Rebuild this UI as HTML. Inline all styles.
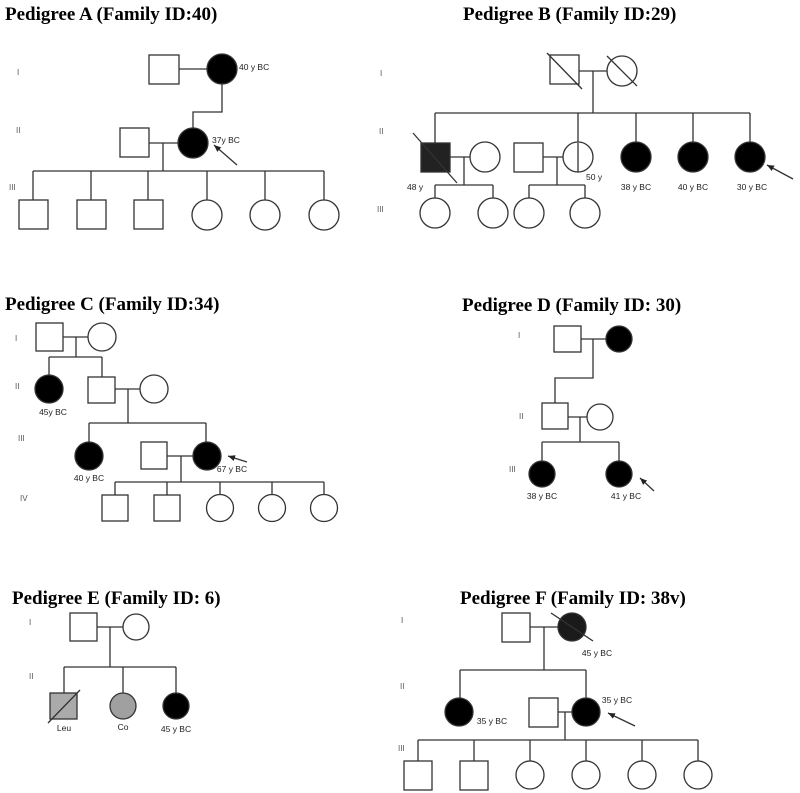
<!DOCTYPE html>
<html><head><meta charset="utf-8"><style>
html,body{margin:0;padding:0;background:#fff;}
svg{display:block}
.t{font-family:"Liberation Serif",serif;font-weight:bold;font-size:19px;fill:#000}
.l{font-family:"Liberation Sans",sans-serif;font-size:8.5px;fill:#222}
.g{font-family:"Liberation Sans",sans-serif;font-size:8px;fill:#555}
</style></head><body>
<svg width="800" height="793" viewBox="0 0 800 793" xmlns="http://www.w3.org/2000/svg">
<defs><marker id="ah" markerWidth="8" markerHeight="8" refX="7" refY="4" orient="auto" markerUnits="userSpaceOnUse"><path d="M0,1 L7,4 L0,7 Z" fill="#222"/></marker></defs>
<text class="t" x="5" y="20">Pedigree A (Family ID:40)</text>
<text class="t" x="463" y="20">Pedigree B (Family ID:29)</text>
<text class="t" x="5" y="310">Pedigree C (Family ID:34)</text>
<text class="t" x="462" y="311">Pedigree D (Family ID: 30)</text>
<text class="t" x="12" y="604">Pedigree E (Family ID: 6)</text>
<text class="t" x="460" y="604">Pedigree F (Family ID: 38v)</text>
<g stroke="#333" stroke-width="1.3" fill="none">
<!-- A -->
<rect x="149" y="55" width="30" height="29" fill="#fff"/>
<circle cx="222" cy="69" r="15" fill="#000"/>
<path d="M179 69H207M222 84V112H193V128"/>
<rect x="120" y="128" width="29" height="29" fill="#fff"/>
<circle cx="193" cy="143" r="15" fill="#000"/>
<path d="M149 143H178M163 143V171M33 171H324M33 171V200M91 171V200M148 171V200M207 171V200M265 171V200M324 171V200"/>
<rect x="19" y="200" width="29" height="29" fill="#fff"/><rect x="77" y="200" width="29" height="29" fill="#fff"/><rect x="134" y="200" width="29" height="29" fill="#fff"/>
<circle cx="207" cy="215" r="15" fill="#fff"/><circle cx="265" cy="215" r="15" fill="#fff"/><circle cx="324" cy="215" r="15" fill="#fff"/>
<line x1="237" y1="165" x2="214" y2="145" marker-end="url(#ah)"/>
<!-- B -->
<rect x="550" y="55" width="29" height="29" fill="#fff"/>
<line x1="547" y1="53" x2="582" y2="89"/>
<circle cx="622" cy="71" r="15" fill="#fff"/>
<line x1="607" y1="56" x2="637" y2="86"/>
<path d="M579 71H607M593 71V113M435 113H750M435 113V143M578 113V143M636 113V142M693 113V142M750 113V142"/>
<rect x="421" y="143" width="29" height="29" fill="#222"/>
<line x1="413" y1="133" x2="457" y2="183"/>
<circle cx="485" cy="157" r="15" fill="#fff"/>
<path d="M450 157H470M464 157V185M435 185H493M435 185V198M493 185V198"/>
<circle cx="435" cy="213" r="15" fill="#fff"/><circle cx="493" cy="213" r="15" fill="#fff"/>
<rect x="514" y="143" width="29" height="29" fill="#fff"/>
<circle cx="578" cy="157" r="15" fill="#fff"/>
<path d="M578 143V172M543 157H563M557 157V185M529 185H585M529 185V198M585 185V198"/>
<circle cx="529" cy="213" r="15" fill="#fff"/><circle cx="585" cy="213" r="15" fill="#fff"/>
<circle cx="636" cy="157" r="15" fill="#000"/><circle cx="693" cy="157" r="15" fill="#000"/><circle cx="750" cy="157" r="15" fill="#000"/>
<line x1="793" y1="179" x2="767" y2="165" marker-end="url(#ah)"/>
<!-- C -->
<rect x="36" y="323" width="27" height="28" fill="#fff"/>
<circle cx="102" cy="337" r="14" fill="#fff"/>
<path d="M63 337H88M76 337V357M49 357H102M49 357V375M102 357V377"/>
<circle cx="49" cy="389" r="14" fill="#000"/>
<rect x="88" y="377" width="27" height="26" fill="#fff"/>
<circle cx="154" cy="389" r="14" fill="#fff"/>
<path d="M115 389H140M128 389V423M89 423H206M89 423V442M206 423V442"/>
<circle cx="89" cy="456" r="14" fill="#000"/>
<rect x="141" y="442" width="26" height="27" fill="#fff"/>
<circle cx="207" cy="456" r="14" fill="#000"/>
<path d="M167 456H193M181 456V482M115 482H324M115 482V495M167 482V495M220 482V494M272 482V494M324 482V494"/>
<rect x="102" y="495" width="26" height="26" fill="#fff"/><rect x="154" y="495" width="26" height="26" fill="#fff"/>
<circle cx="220" cy="508" r="13.5" fill="#fff"/><circle cx="272" cy="508" r="13.5" fill="#fff"/><circle cx="324" cy="508" r="13.5" fill="#fff"/>
<line x1="247" y1="462" x2="228" y2="456" marker-end="url(#ah)"/>
<!-- D -->
<rect x="554" y="326" width="27" height="26" fill="#fff"/>
<circle cx="619" cy="339" r="13" fill="#000"/>
<path d="M581 339H606M593 339V378H555V403"/>
<rect x="542" y="403" width="26" height="26" fill="#fff"/>
<circle cx="600" cy="417" r="13" fill="#fff"/>
<path d="M568 417H587M580 417V442M542 442H619M542 442V461M619 442V461"/>
<circle cx="542" cy="474" r="13" fill="#000"/><circle cx="619" cy="474" r="13" fill="#000"/>
<line x1="654" y1="491" x2="640" y2="478" marker-end="url(#ah)"/>
<!-- E -->
<rect x="70" y="613" width="27" height="28" fill="#fff"/>
<circle cx="136" cy="627" r="13" fill="#fff"/>
<path d="M97 627H123M110 627V667M64 667H176M64 667V693M123 667V693M176 667V693"/>
<rect x="50" y="693" width="27" height="26" fill="#aaa"/>
<line x1="48" y1="723" x2="80" y2="690"/>
<circle cx="123" cy="706" r="13" fill="#a0a0a0"/>
<circle cx="176" cy="706" r="13" fill="#000"/>
<!-- F -->
<rect x="502" y="613" width="28" height="29" fill="#fff"/>
<circle cx="572" cy="627" r="14" fill="#1a1a1a"/>
<line x1="551" y1="613" x2="593" y2="641"/>
<path d="M530 627H558M544 627V670M460 670H586M460 670V698M586 670V698"/>
<circle cx="459" cy="712" r="14" fill="#000"/>
<rect x="529" y="698" width="29" height="29" fill="#fff"/>
<circle cx="586" cy="712" r="14" fill="#000"/>
<path d="M558 712H572M565 712V740M418 740H698M418 740V761M474 740V761M530 740V761M586 740V761M642 740V761M698 740V761"/>
<rect x="404" y="761" width="28" height="29" fill="#fff"/><rect x="460" y="761" width="28" height="29" fill="#fff"/>
<circle cx="530" cy="775" r="14" fill="#fff"/><circle cx="586" cy="775" r="14" fill="#fff"/><circle cx="642" cy="775" r="14" fill="#fff"/><circle cx="698" cy="775" r="14" fill="#fff"/>
<line x1="635" y1="726" x2="608" y2="713" marker-end="url(#ah)"/>
</g>
<!-- labels -->
<text class="l" x="239" y="70">40 y BC</text>
<text class="l" x="212" y="143">37y BC</text>
<text class="l" x="407" y="190">48 y</text>
<text class="l" x="586" y="180">50 y</text>
<text class="l" x="636" y="190" text-anchor="middle">38 y BC</text>
<text class="l" x="693" y="190" text-anchor="middle">40  y BC</text>
<text class="l" x="752" y="190" text-anchor="middle">30 y BC</text>
<text class="l" x="53" y="415" text-anchor="middle">45y BC</text>
<text class="l" x="89" y="481" text-anchor="middle">40 y BC</text>
<text class="l" x="232" y="472" text-anchor="middle">67 y BC</text>
<text class="l" x="542" y="499" text-anchor="middle">38 y BC</text>
<text class="l" x="626" y="499" text-anchor="middle">41 y BC</text>
<text class="l" x="64" y="731" text-anchor="middle">Leu</text>
<text class="l" x="123" y="730" text-anchor="middle">Co</text>
<text class="l" x="176" y="732" text-anchor="middle">45 y BC</text>
<text class="l" x="597" y="656" text-anchor="middle">45 y BC</text>
<text class="l" x="492" y="724" text-anchor="middle">35 y BC</text>
<text class="l" x="617" y="703" text-anchor="middle">35 y BC</text>
<!-- generation labels -->
<text class="g" x="17" y="75">I</text><text class="g" x="16" y="133">II</text><text class="g" x="9" y="190">III</text>
<text class="g" x="380" y="76">I</text><text class="g" x="379" y="134">II</text><text class="g" x="377" y="212">III</text>
<text class="g" x="15" y="341">I</text><text class="g" x="15" y="389">II</text><text class="g" x="18" y="441">III</text><text class="g" x="20" y="501">IV</text>
<text class="g" x="518" y="338">I</text><text class="g" x="519" y="419">II</text><text class="g" x="509" y="472">III</text>
<text class="g" x="29" y="625">I</text><text class="g" x="29" y="679">II</text>
<text class="g" x="401" y="623">I</text><text class="g" x="400" y="689">II</text><text class="g" x="398" y="751">III</text>
</svg>
</body></html>
